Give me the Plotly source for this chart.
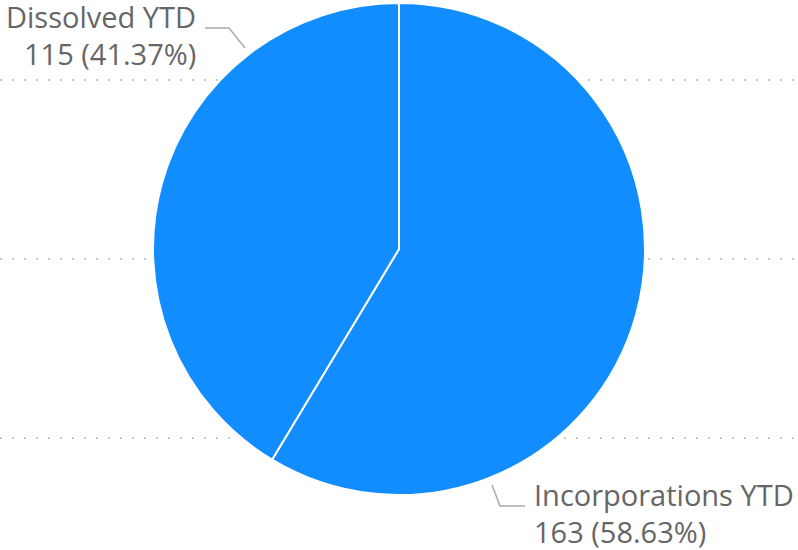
import plotly.graph_objects as go

categories = ["Incorporations YTD", "Dissolved YTD"]
values = [163, 115]
colors = ["#118DFF", "#118DFF"]

W, H = 798, 550
total = sum(values)

def px(x):
    return x / W

def py(y):
    return 1 - y / H

fig = go.Figure()
fig.add_trace(go.Pie(
    labels=categories,
    values=values,
    sort=False,
    direction="clockwise",
    rotation=0,
    marker=dict(colors=colors, line=dict(color="white", width=2)),
    textinfo="none",
    hoverinfo="label+value+percent",
    showlegend=False,
    domain=dict(x=[0, 1], y=[py(495), py(3)]),
))

shapes = []
# dotted gridlines behind the pie
for gy in [80, 259, 438]:
    shapes.append(dict(type="line", xref="paper", yref="paper",
                       x0=0, x1=1, y0=py(gy), y1=py(gy), layer="below",
                       line=dict(color="#C8C8C8", width=2, dash="2px,10px")))
# leader lines
shapes.append(dict(type="path", xref="paper", yref="paper",
                   path=f"M {px(205)},{py(28)} L {px(229)},{py(28)} L {px(245)},{py(48)}",
                   line=dict(color="#AAAAAA", width=1.5)))
shapes.append(dict(type="path", xref="paper", yref="paper",
                   path=f"M {px(492)},{py(485)} L {px(500)},{py(506)} L {px(525)},{py(506)}",
                   line=dict(color="#AAAAAA", width=1.5)))

font = dict(family="Open Sans, Noto Sans, sans-serif", size=29, color="#666666")

def pct(v):
    return f"{v} ({v / total * 100:.2f}%)"

annotations = [
    dict(text=categories[1], x=px(197), y=py(17), xanchor="right", yanchor="middle"),
    dict(text=pct(values[1]), x=px(197), y=py(54), xanchor="right", yanchor="middle"),
    dict(text=categories[0], x=px(533), y=py(494), xanchor="left", yanchor="middle"),
    dict(text=pct(values[0]), x=px(533), y=py(531), xanchor="left", yanchor="middle"),
]
for a in annotations:
    a.update(xref="paper", yref="paper", showarrow=False, font=font, borderpad=0)

fig.update_layout(
    width=W, height=H,
    margin=dict(l=0, r=0, t=0, b=0),
    paper_bgcolor="white",
    plot_bgcolor="white",
    shapes=shapes,
    annotations=annotations,
)

fig.write_html("out.html", config={"displayModeBar": False},
               post_script="document.body.style.margin='0';")
